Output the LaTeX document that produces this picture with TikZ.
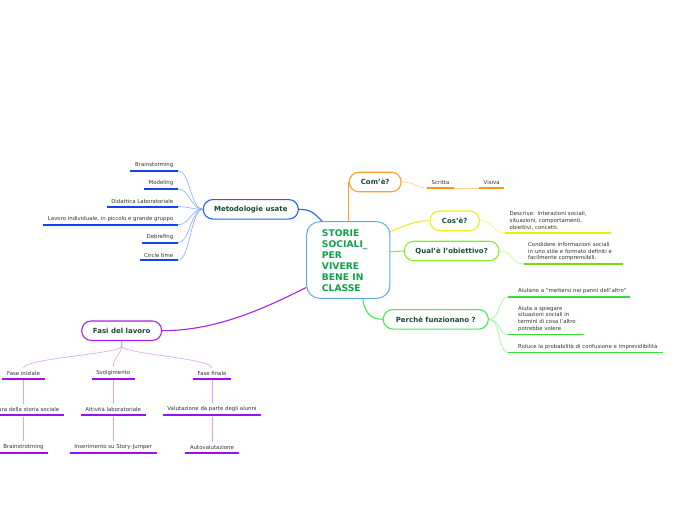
\documentclass[tikz,border=0pt]{standalone}
\usepackage{fontspec}
\setmainfont{DejaVu Sans}
\usetikzlibrary{calc}
\definecolor{cborder}{HTML}{5DADE2}
\definecolor{ctext}{HTML}{0FA04A}
\definecolor{ltext}{HTML}{174A3A}
\definecolor{gtext}{HTML}{333333}
\definecolor{oranA}{HTML}{FFA028}
\definecolor{oranB}{HTML}{FFCC8E}
\definecolor{oranUL}{rgb}{1,0.58,0.05}
\definecolor{yeA}{HTML}{EEEE22}\definecolor{yeB}{HTML}{F4F488}\definecolor{yeC}{HTML}{EEEE00}
\definecolor{chA}{HTML}{88EE22}\definecolor{chB}{HTML}{C4F58A}\definecolor{chC}{HTML}{77DD00}
\definecolor{grA}{HTML}{44EE44}\definecolor{grB}{HTML}{99F599}\definecolor{grC}{HTML}{33E033}
\definecolor{blA}{HTML}{1F5FFF}\definecolor{blB}{HTML}{88AAFF}\definecolor{blC}{HTML}{1144EE}
\definecolor{puA}{HTML}{AA22EE}\definecolor{puB}{HTML}{DDA0FF}\definecolor{puC}{HTML}{9911EE}
\tikzset{
  topic/.style={draw, line width=1.1pt, rounded corners=9.5pt, fill=white, text=ltext,
    font=\fontsize{7}{8}\selectfont\bfseries, minimum height=19.5pt, inner sep=0pt},
  leaf/.style={text=gtext, font=\fontsize{5.4}{6.6}\selectfont, inner xsep=4.5pt, inner ysep=3pt},
  uline/.style={line width=1.8pt},
  main/.style={line width=1.1pt},
  thin/.style={line width=0.6pt},
}
\begin{document}
\begin{tikzpicture}[x=1pt,y=-1pt]
\useasboundingbox (0,0) rectangle (696,520);
\fill[white] (0,0) rectangle (696,520);

% central
\node[draw=cborder, line width=1pt, rounded corners=13pt, fill=white, minimum width=83.3pt, minimum height=76.6pt, inner sep=0pt] (c) at (348.3,260) {};
\node[anchor=north west, inner sep=0pt, text=ctext, font=\fontsize{9.2}{11.1}\selectfont\bfseries, align=left] (ct) at (321.7,229) {STORIE\\SOCIALI\_\\PER\\VIVERE\\BENE IN\\CLASSE};

% topics
\node[topic, draw=oranA, minimum width=51.7pt] (come) at (375.2,182) {Com'è?};
\node[topic, draw=yeA, minimum width=49.3pt] (cose) at (454.7,220.7) {Cos'è?};
\node[topic, draw=chA, minimum width=94.7pt] (qual) at (451.6,251) {Qual'è l'obiettivo?};
\node[topic, draw=grA, minimum width=105pt] (perc) at (435.8,319.3) {Perchè funzionano ?};
\node[topic, draw=blA, minimum width=95pt] (meto) at (250.8,209.3) {Metodologie usate};
\node[topic, draw=puA, minimum width=80pt] (fasi) at (121.7,330.7) {Fasi del lavoro};

% central connectors
\draw[main, oranA] (come.west |- c.north) -- (come.west);
\draw[main, yeA] ($(c.north east)+(0,10.5)$) .. controls +(14,-6) and +(-14,0) .. (cose.west);
\draw[main, chA] ($(c.north east)+(0,30.5)$) .. controls +(6,0) and +(-6,0) .. (qual.west);
\draw[main, grA] ($(c.south)+(14.5,0)$) .. controls +(2,14) and +(-12,0) .. (perc.west);
\draw[main, blA] (meto.east) .. controls +(12,0) and +(-8,-8) .. ($(c.north west)+(16,0)$);
\draw[main, puA] (fasi.east) .. controls +(55,0) and +(-40,20) .. ($(c.south west)+(0,-11.3)$);

% Com'e leaves
\node[leaf, anchor=south west] (scritta) at (427,188) {Scritta};
\node[leaf, anchor=south west] (visiva) at (479,188) {Visiva};
\draw[thin, draw=oranB] (come.east) .. controls +(14,0) and +(-12,0) .. (scritta.south west);
\draw[thin, draw=oranB] (scritta.south east) -- (visiva.south west);
\draw[line width=2pt, draw=oranUL] (scritta.south west) -- (scritta.south east);
\draw[line width=2pt, draw=oranUL] (visiva.south west) -- (visiva.south east);

% Cos'e leaf
\node[leaf, anchor=south west, align=left, text width=97pt] (cose1) at (505,233) {Descrive: interazioni sociali,\\situazioni, comportamenti,\\obiettivi, concetti.};
\draw[thin, yeB] (cose.east) .. controls +(14,0) and +(-12,0) .. (cose1.south west);
\draw[uline, yeC] (cose1.south west) -- (cose1.south east);

% Qual'e leaf
\node[leaf, anchor=south west, align=left, text width=90pt] (qual1) at (523.5,264) {Condidere informazioni sociali\\in uno stile e formato definiti e\\facilmente comprensibili.};
\draw[thin, chB] (qual.east) .. controls +(14,0) and +(-12,0) .. (qual1.south west);
\draw[uline, chC] (qual1.south west) -- (qual1.south east);

% Perche leaves
\node[leaf, anchor=south west, align=left, inner xsep=0pt, text width=122pt] (p1) at (508,297) {\hspace*{10pt}Aiutano a "mettersi nei panni dell'altro"};
\node[leaf, anchor=south west, align=left, inner xsep=0pt, text width=76pt] (p2) at (508,334.5) {\hspace*{10pt}Aiuta a spiegare\\\hspace*{10pt}situazioni sociali in\\\hspace*{10pt}termini di cosa l'altro\\\hspace*{10pt}potrebbe volere};
\node[leaf, anchor=south west, align=left, inner xsep=0pt, text width=155pt] (p3) at (508,352.5) {\hspace*{10pt}Riduce la probabilità di confusione e imprevidibilità};
\foreach \n in {p1,p2,p3}{
  \draw[thin, grB] (perc.east) .. controls +(12,0) and +(-10,0) .. (\n.south west);
  \draw[uline, grC] (\n.south west) -- (\n.south east);
}

% Metodologie leaves
\node[leaf, anchor=south east] (m1) at (178,170.7) {Brainstorming};
\node[leaf, anchor=south east] (m2) at (178,189) {Modeling};
\node[leaf, anchor=south east] (m3) at (178,206.7) {Didattica Laboratoriale};
\node[leaf, anchor=south east] (m4) at (178,224.7) {Lavoro individuale, in piccolo e grande gruppo};
\node[leaf, anchor=south east] (m5) at (178,242.7) {Debrefing};
\node[leaf, anchor=south east] (m6) at (178,260.3) {Circle time};
\foreach \n in {m1,m2,m3,m4,m5,m6}{
  \draw[thin, blB] (meto.west) .. controls +(-12,0) and +(12,0) .. (\n.south east);
  \draw[uline, blC] (\n.south west) -- (\n.south east);
}

% Fasi leaves
\node[leaf, anchor=south] (f1) at (23.5,378.7) {Fase iniziale};
\node[leaf, anchor=south] (f2) at (113.2,378.7) {Svolgimento};
\node[leaf, anchor=south] (f3) at (212,378.7) {Fase finale};
\node[leaf, anchor=south] (f1a) at (23.5,415) {Lettura della storia sociale};
\node[leaf, anchor=south] (f2a) at (113.2,415) {Attività laboratoriale};
\node[leaf, anchor=south] (f3a) at (212,415) {Valutazione da parte degli alunni};
\node[leaf, anchor=south] (f1b) at (23.5,452.7) {Brainstrotming};
\node[leaf, anchor=south] (f2b) at (113.2,452.7) {Inserimento su Story-Jumper};
\node[leaf, anchor=south] (f3b) at (212,452.7) {Autovalutazione};
\foreach \n in {f1,f2,f3}{
  \draw[thin, puB] (fasi.south) -- ++(0,5) .. controls +(0,8) and +(0,-10) .. (\n.north);
}
\foreach \a/\b in {f1/f1a,f2/f2a,f3/f3a,f1a/f1b,f2a/f2b,f3a/f3b}{
  \draw[thin, puB] ([yshift=-1.5pt]\a.south) -- (\b.north);
}
\foreach \n in {f1,f2,f3,f1a,f2a,f3a,f1b,f2b,f3b}{
  \draw[uline, puC] (\n.south west) -- (\n.south east);
}
\end{tikzpicture}
\end{document}
